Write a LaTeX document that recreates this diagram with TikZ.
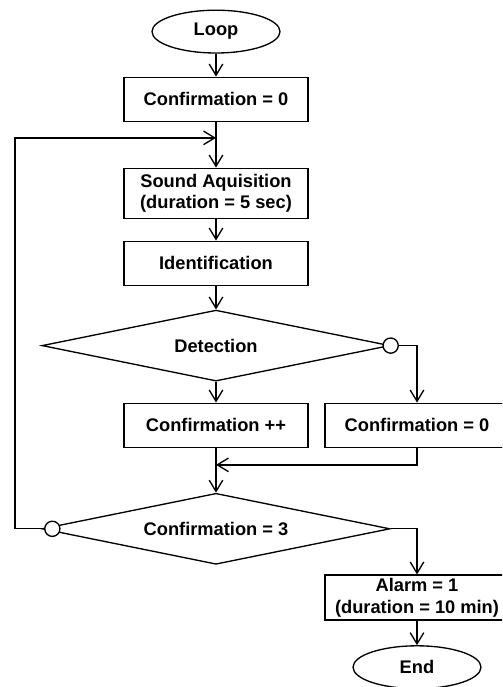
\documentclass[tikz,border=0pt]{standalone}
\usepackage{fontspec}
\setmainfont{Liberation Sans}
\usetikzlibrary{shapes.geometric, arrows.meta, positioning}

\begin{document}
\begin{tikzpicture} [on grid, line width=0.95pt,
  font=\bfseries\fontsize{13}{15.5}\selectfont,
  block/.style={rectangle, draw, minimum width=4.6cm, minimum height=1.1cm, align=center, inner sep=1pt},
  terminal/.style={ellipse, draw, minimum width=3.2cm, minimum height=1.07cm, inner sep=0pt},
  decision/.style={diamond, draw, aspect=4.9, minimum width=8.7cm, minimum height=1.775cm, inner sep=0pt},
  dot/.style={circle, draw, fill=white, minimum size=0.38cm, inner sep=0pt},
  arr/.style={-{Straight Barb[length=0.28cm, width=0.34cm]}}]
\useasboundingbox (0,0) rectangle (12.55,-17.175);
\clip (0,0) rectangle (12.55,-17.175);
\node (loop) [terminal] at (5.4,-0.79) {Loop};
\node (conf0) [block, below = 1.69cm of loop] {Confirmation = 0};
\coordinate [below = 0.4cm of conf0.south] (ret);
\node (aqui) [block, minimum height=1.25cm, below = 2.35cm of conf0] {Sound Aquisition\\(duration = 5 sec)};
\node (ident) [block, below = 1.75cm of aqui] {Identification};
\node (detect) [decision, below = 2.06cm of ident] {Detection};
\node (confpp) [block, below = 1.99cm of detect] {Confirmation ++};
\node (confz) [block, right = 5.025cm of confpp] {Confirmation = 0};
\coordinate [below = 0.425cm of confpp.south] (merge);
\node (check) [decision, below = 2.59cm of confpp] {Confirmation = 3};
\node (alarm) [block, minimum height=1.125cm, below = 4.31cm of confz] {Alarm = 1\\(duration = 10 min)};
\node (end) [terminal, below = 1.74cm of alarm] {End};
% "no" exits of the two decisions
\node (no1) [dot] at (detect.east) {};
\node (no2) [dot] at ([xshift=0.275cm]check.west) {};
\coordinate (lft) at (0.375,0);
\path [arr]
    (loop) edge (conf0)
    (conf0) edge (aqui)
    (aqui) edge (ident)
    (ident) edge (detect)
    (detect) edge (confpp)
    (confpp) edge (check)
    (alarm) edge (end);
\draw [arr] (no1) -| (confz);
\draw [arr] (confz) |- (merge);
\draw [arr] (check) -| (alarm);
\draw [arr] (no2) -- (lft |- no2) -- (lft |- ret) -- (ret);
\end{tikzpicture}
\end{document}
